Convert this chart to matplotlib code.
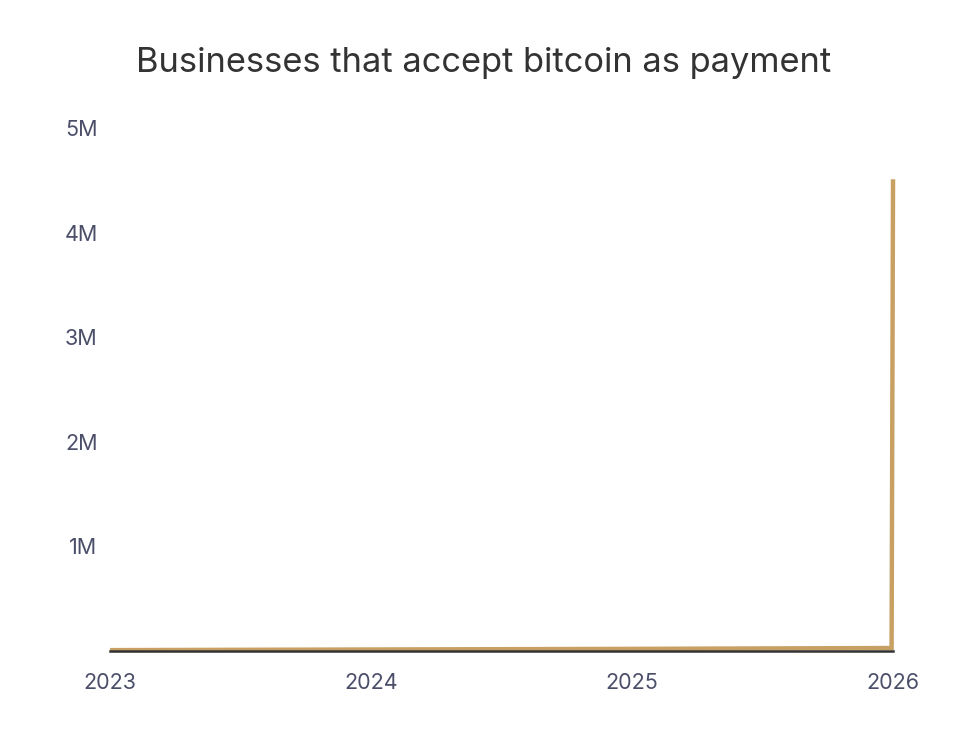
import matplotlib
matplotlib.use("Agg")
import matplotlib.pyplot as plt
import datetime as dt

plt.rcParams['font.family'] = ['Inter', 'DejaVu Sans']

# businesses accepting bitcoin, estimated from the chart
dates = [dt.date(2023, 1, 1), dt.date(2023, 7, 1), dt.date(2024, 1, 1),
         dt.date(2024, 7, 1), dt.date(2025, 1, 1), dt.date(2025, 7, 1),
         dt.date(2025, 12, 30), dt.date(2026, 1, 1)]
businesses = [8000, 11000, 14000, 17000, 20000, 24000, 28000, 4510000]

year_ticks = [dt.date(2023, 1, 1), dt.date(2024, 1, 1), dt.date(2025, 1, 1), dt.date(2026, 1, 1)]
year_labels = ['2023', '2024', '2025', '2026']
y_ticks = [1e6, 2e6, 3e6, 4e6, 5e6]
y_labels = ['1M', '2M', '3M', '4M', '5M']

fig = plt.figure(figsize=(9.67, 7.32), dpi=100)
ax = fig.add_axes([0.1138, 0.1107, 0.8097, 0.7144])

ax.plot(dates, businesses, color='#c8a063', lw=3.2, solid_joinstyle='miter',
        solid_capstyle='butt', clip_on=False, zorder=3)

ax.set_xlim(dates[0], dates[-1])
ax.set_ylim(0, 5e6)
ax.set_xticks(year_ticks)
ax.set_xticklabels(year_labels)
ax.set_yticks(y_ticks)
ax.set_yticklabels(y_labels)

for s in ['top', 'right', 'left']:
    ax.spines[s].set_visible(False)
ax.spines['bottom'].set_color('#333333')
ax.spines['bottom'].set_linewidth(1.8)
ax.spines['bottom'].set_zorder(4)
ax.tick_params(length=0, labelsize=15.5, labelcolor='#4a4e69')
ax.tick_params(axis='x', pad=16)
ax.tick_params(axis='y', pad=9)

fig.text(0.5, 0.914, 'Businesses that accept bitcoin as payment',
         ha='center', va='center', fontsize=24.8, color='#333333')

fig.savefig('out.png', dpi=100, facecolor='white')
